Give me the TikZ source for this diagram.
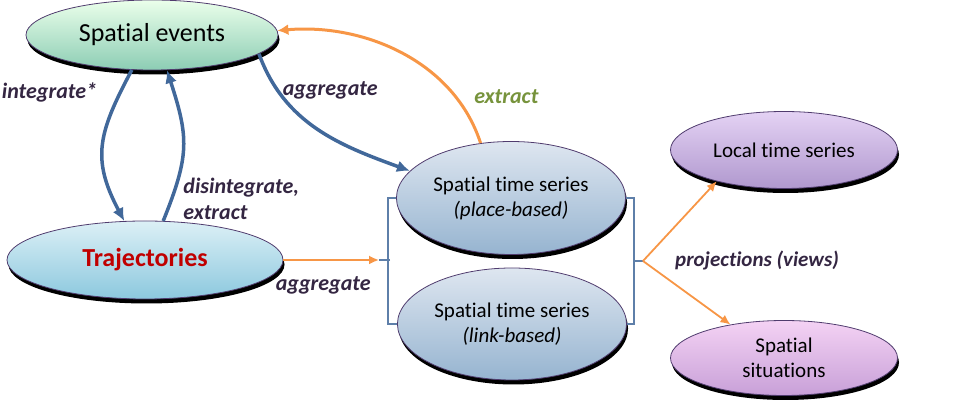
\documentclass[tikz,border=0pt]{standalone}
\usepackage{fontspec}
\setmainfont{Carlito}[Ligatures=NoCommon]
\usetikzlibrary{
  shapes.geometric,
  shadows,
  arrows.meta,
  positioning
}

\definecolor{flowblue}{RGB}{65,104,154}
\definecolor{floworange}{RGB}{247,150,70}
\definecolor{lbldark}{RGB}{52,38,66}
\definecolor{lblgreen}{RGB}{119,147,60}
\definecolor{trajred}{RGB}{192,0,0}
\definecolor{rimpurple}{RGB}{80,60,110}

\begin{document}
\begin{tikzpicture}[x=1pt,y=1pt,
    view/.style={ellipse,draw=rimpurple,line width=0.8pt,align=center,
      font=\fontsize{21}{25}\selectfont,
      drop shadow={shadow xshift=1.5pt,shadow yshift=-4.5pt,fill=black,opacity=1}},
    greenview/.style={view,top color=green!8!white,bottom color={rgb,255:red,140;green,205;blue,180}},
    cyanview/.style={view,top color={rgb,255:red,220;green,240;blue,246},bottom color={rgb,255:red,140;green,200;blue,222}},
    blueview/.style={view,top color={rgb,255:red,222;green,230;blue,240},bottom color={rgb,255:red,150;green,180;blue,208}},
    lilacview/.style={view,top color={rgb,255:red,228;green,210;blue,244},bottom color={rgb,255:red,176;green,152;blue,206}},
    pinkview/.style={view,top color={rgb,255:red,244;green,210;blue,244},bottom color={rgb,255:red,200;green,160;blue,216}},
    lbl/.style={font=\fontsize{22}{26}\selectfont\bfseries\itshape,text=lbldark},
    thickflow/.style={-{Latex[length=13pt,width=12pt]},draw=flowblue,line width=3.5pt},
    thinflow/.style={-{Latex[length=10pt,width=9pt]},draw=floworange,line width=1.8pt},
    bracket/.style={draw=flowblue!85!white,line width=2pt}
  ]
    \useasboundingbox (0,0) rectangle (954,414);

    \node[greenview,minimum width=252pt,minimum height=70pt,font=\fontsize{26}{30}\selectfont] (events) at (152,379) {Spatial events};
    \node[cyanview,minimum width=276pt,minimum height=78pt,text=trajred,font=\fontsize{26}{30}\selectfont\bfseries] (traj) at (145,154) {Trajectories};
    \node[blueview,minimum width=227pt,minimum height=113pt] (place) at (511,216) {Spatial time series\\\textit{(place-based)}};
    \node[blueview,minimum width=228pt,minimum height=112pt] (link) at (512,90) {Spatial time series\\\textit{(link-based)}};
    \node[lilacview,minimum width=227pt,minimum height=77pt] (local) at (784,264) {Local time series};
    \node[pinkview,minimum width=227pt,minimum height=75pt] (situ) at (784,56) {Spatial\\situations};

    \coordinate (lbr) at (390,154);
    \coordinate (lmid) at (379,154);
    \coordinate (rbr) at (633,153);
    \coordinate (rmid) at (643,153);

    \draw[bracket] (place.west) -- ++(-8,0) |- (link.west);
    \draw[bracket] (place.east) -- ++(8,0) |- (link.east);
    \draw[bracket] (lbr) -- (lmid);
    \draw[bracket] (rbr) -- (rmid);

    \draw[thickflow] (events.-120) to[out=-118,in=118,looseness=1.2] node[lbl,pos=0.13,left=8pt,xshift=-10pt]{integrate*} (traj.118);
    \draw[thickflow] (traj.65) to[out=68,in=-72,looseness=1.2] node[lbl,pos=0.1,right=8pt,yshift=4pt,align=left]{disintegrate,\\extract} (events.-67);
    \draw[thickflow] (events.-10) to[out=-70,in=160] node[lbl,pos=0.2,anchor=west]{aggregate} (place.165);
    \draw[draw=floworange,line width=3pt,-{Latex[length=11pt,width=11pt]}] (place.119) to[out=108,in=5,looseness=0.95] node[lbl,text=lblgreen,pos=0.2,right=12pt,yshift=3pt]{extract} (events.2);
    \draw[thinflow] (traj) to node[lbl,below=12pt,xshift=-8pt]{aggregate} (lmid);
    \draw[thinflow] (rmid) to (local.-155);
    \draw[thinflow] (rmid) to (situ.148);

    \node[lbl,font=\fontsize{21}{25}\selectfont\bfseries\itshape] (proj) at (757,153) {projections (views)};
  \end{tikzpicture}
\end{document}
